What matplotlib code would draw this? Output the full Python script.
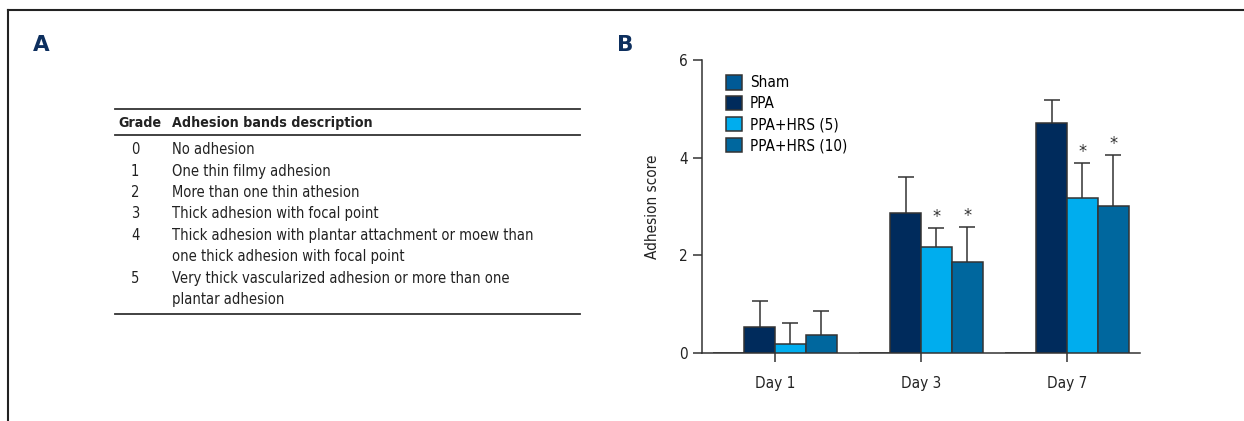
import matplotlib
matplotlib.use('Agg')
import matplotlib.pyplot as plt
from matplotlib.lines import Line2D
import numpy as np

plt.rcParams['font.family'] = ['DejaVu Sans']
plt.rcParams['font.stretch'] = 'condensed'

# ---- data ----
days = ['Day 1', 'Day 3', 'Day 7']
groups = ['Sham', 'PPA', 'PPA+HRS (5)', 'PPA+HRS (10)']
sham = [0, 0, 0]
ppa = [0.53, 2.87, 4.70]
hrs5 = [0.18, 2.16, 3.17]
hrs10 = [0.36, 1.85, 3.00]
sham_err = [0, 0, 0]
ppa_err = [0.54, 0.73, 0.48]
hrs5_err = [0.42, 0.39, 0.72]
hrs10_err = [0.50, 0.72, 1.05]
# significance marks per group (Day 1, Day 3, Day 7)
sig = {'Sham': [0, 0, 0], 'PPA': [0, 0, 0],
       'PPA+HRS (5)': [0, 1, 1], 'PPA+HRS (10)': [0, 1, 1]}

grades = ['0', '1', '2', '3', '4', '5']
descriptions = ['No adhesion',
                'One thin filmy adhesion',
                'More than one thin athesion',
                'Thick adhesion with focal point',
                'Thick adhesion with plantar attachment or moew than\none thick adhesion with focal point',
                'Very thick vascularized adhesion or more than one\nplantar adhesion']

values = [sham, ppa, hrs5, hrs10]
errors = [sham_err, ppa_err, hrs5_err, hrs10_err]
colors = ['#005a96', '#002b5c', '#00adee', '#00679e']

W, H = 1244, 421
fig = plt.figure(figsize=(W / 100, H / 100), dpi=100)


def px(x, y):
    # pixel coords (from top-left) to figure fraction
    return x / W, 1 - y / H


def hline(x0, x1, y, lw=1.3, color='#333333'):
    a, b = px(x0, y)
    c, _ = px(x1, y)
    fig.add_artist(Line2D([a, c], [b, b], lw=lw, color=color))


# outer frame (top and left only visible)
fx, fy = px(8, 10)
fig.add_artist(Line2D([fx, 1.0], [fy, fy], lw=1.5, color='#222222'))
fig.add_artist(Line2D([fx, fx], [0, fy], lw=1.5, color='#222222'))

# panel labels
fig.text(*px(41, 45), 'A', fontsize=15.5, fontweight='bold', color='#0d2f5e',
         ha='center', va='center', fontstretch='normal')
fig.text(*px(625, 45), 'B', fontsize=15.5, fontweight='bold', color='#0d2f5e',
         ha='center', va='center', fontstretch='normal')

# ---- panel A: table ----
txt = '#222222'
hline(115, 580, 109)
hline(115, 580, 135)
fig.text(*px(118, 123), 'Grade', fontsize=10.2, fontweight='bold', color=txt, va='center')
fig.text(*px(172, 123), 'Adhesion bands description', fontsize=10.2,
         fontweight='bold', color=txt, va='center')
row_h = 21.4
y = 149.7
for g, d in zip(grades, descriptions):
    fig.text(*px(135, y), g, fontsize=10.5, color=txt, va='center', ha='center')
    for i, part in enumerate(d.split('\n')):
        fig.text(*px(172, y + i * row_h), part, fontsize=10.5, color=txt, va='center')
    y += row_h * len(d.split('\n'))
hline(115, 580, 314)

# ---- panel B: bar chart ----
ax = fig.add_axes([702 / W, 1 - 352.7 / H, (1140 - 702) / W, (352.7 - 60) / H])
x = np.arange(len(days))
bw = 0.212
offsets = (np.arange(len(groups)) - 1.5) * bw
for name, vals, errs, col, off in zip(groups, values, errors, colors, offsets):
    ax.bar(x + off, vals, bw, color=col, edgecolor='#333333', linewidth=1.1,
           label=name, zorder=3)
    if any(errs):
        _, caps, _ = ax.errorbar(x + off, vals, yerr=[np.zeros(len(errs)), errs],
                                 fmt='none', ecolor='#333333', elinewidth=1.1,
                                 capsize=6, capthick=1.1, zorder=2)
        caps[0].set_visible(False)
    for xi, v, e, s in zip(x + off, vals, errs, sig[name]):
        if s:
            ax.text(xi, v + e + 0.04, '*', ha='center', va='bottom',
                    fontsize=13, color='#333333')

ax.set_xlim(-0.5, 2.5)
ax.set_ylim(0, 6)
ax.set_yticks([0, 2, 4, 6])
ax.set_xticks(x)
ax.set_xticklabels(days)
ax.set_ylabel('Adhesion score', fontsize=11, color=txt, labelpad=14)
for s in ['top', 'right']:
    ax.spines[s].set_visible(False)
for s in ['left', 'bottom']:
    ax.spines[s].set_color('#333333')
    ax.spines[s].set_linewidth(1.1)
ax.spines['bottom'].set_bounds(-0.5, 2.5)
ax.tick_params(axis='both', direction='out', length=6.5, width=1.1,
               color='#333333', labelsize=11, labelcolor=txt)
ax.tick_params(axis='x', pad=10)

ax.legend(loc='upper left', bbox_to_anchor=(0.04, 0.97), frameon=False,
          fontsize=11, handlelength=1.1, handleheight=1.1, handletextpad=0.5,
          labelspacing=0.35, borderaxespad=0)

fig.savefig('out.png', dpi=100)
